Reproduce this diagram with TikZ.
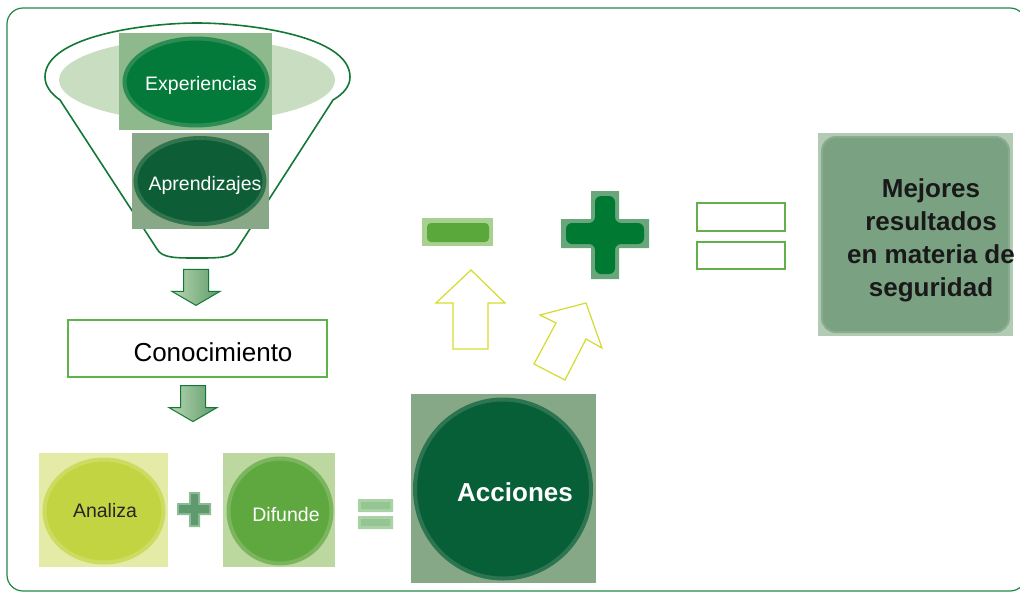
\documentclass[tikz,border=0pt]{standalone}
\usepackage{fontspec}
\setmainfont{Liberation Sans}
\usetikzlibrary{shapes.geometric}
\definecolor{frameg}{HTML}{1E8A46}
\definecolor{funnelg}{HTML}{137836}
\definecolor{rimg}{HTML}{C9DEC1}
\definecolor{expbg}{HTML}{8DB98C}
\definecolor{expcore}{HTML}{03793A}
\definecolor{aprbg}{HTML}{88A887}
\definecolor{aprcore}{HTML}{0D5E36}
\definecolor{boxg}{HTML}{5DB54A}
\definecolor{anabg}{HTML}{E4EBA6}
\definecolor{anacore}{HTML}{C3D443}
\definecolor{difbg}{HTML}{BCD7A0}
\definecolor{difcore}{HTML}{5FA840}
\definecolor{accbg}{HTML}{87A887}
\definecolor{acccore}{HTML}{075F38}
\definecolor{minbg}{HTML}{A8D08E}
\definecolor{mincore}{HTML}{5AA83C}
\definecolor{plusbg}{HTML}{6AA67B}
\definecolor{pluscore}{HTML}{007A33}
\definecolor{spbg}{HTML}{8CBB95}
\definecolor{spcore}{HTML}{5E9A6D}
\definecolor{seqbg}{HTML}{A9D3A4}
\definecolor{seqcore}{HTML}{95C592}
\definecolor{eqg}{HTML}{63B04B}
\definecolor{yel}{HTML}{D5DB2C}
\definecolor{mejedge}{HTML}{B3CBB4}
\definecolor{mejcore}{HTML}{7AA282}
\definecolor{arrlight}{HTML}{B9D7B4}
\definecolor{arrdark}{HTML}{5E9A69}

\begin{document}
\begin{tikzpicture}[x = 1pt, y = -1pt,
	tile/.style = {inner sep = 0, outer sep = 0},
	blob/.style = {ellipse, inner sep = 0, line width = 4pt},
	yarrow/.style = {draw = yel, line width = 1.2pt},
	darrow/.style = {draw = funnelg, line width = 1pt, left color = arrlight, right color = arrdark},
	pics/downarr/.style = {code = {
		\draw[darrow] (-12.5,0) -- (12.5,0) -- (12.5,22) -- (24,22) -- (0,36) -- (-24,22) -- (-12.5,22) -- cycle;
	}}
]
	\useasboundingbox (0,0) rectangle (1020,592);
	\draw[frameg, line width = 1.2pt, rounded corners = 16] (7,8) rectangle (1026,591);

	% funnel
	\draw[funnelg, line width = 1.6pt]
	(60,100) .. controls (50,93) and (45,85) .. (45,77) .. controls (45,35) and (150,23) .. (197,23)
	.. controls (245,23) and (350,35) .. (350,77) .. controls (350,85) and (345,93) .. (333,100)
	-- (237,249) .. controls (232,258) and (219,258) .. (197,258) .. controls (175,258) and (162,258) .. (157,249) -- cycle;
	\fill[rimg] (197,80) ellipse [x radius = 138, y radius = 42];

	\node[tile, fill = expbg, minimum width = 153, minimum height = 97] (EXPBOX) at (195.5,81.5) {};
	\node[blob, fill = expcore, draw = expcore!70!expbg, minimum width = 143, minimum height = 87,
		label = {[white, xshift = 5, yshift = -3, font = \fontsize{19.5}{22}\selectfont]center:Experiencias}] (EXP) at (196,82) {};
	\node[tile, fill = aprbg, minimum width = 137, minimum height = 96] (APRBOX) at (200.5,181) {};
	\node[blob, fill = aprcore, draw = aprcore!70!aprbg, minimum width = 129, minimum height = 86,
		label = {[white, xshift = 5, yshift = -4, font = \fontsize{19.5}{22}\selectfont]center:Aprendizajes}] (APR) at (200,181) {};

	% conocimiento
	\node[draw = boxg, line width = 1.2pt, minimum width = 259, minimum height = 57, text height = 25pt, text depth = 0pt,
		font = \fontsize{26}{30}\selectfont] (CONO) at (197.5,348.5) {\hspace*{31pt}Conocimiento};
	\pic at ([xshift = -1.5, yshift = 50]CONO.north) {downarr};
	\pic at ([xshift = -4.5, yshift = -8]CONO.south) {downarr};

	% analiza + difunde = acciones
	\node[tile, fill = anabg, minimum width = 129, minimum height = 114] (ANABOX) at (103.5,510) {};
	\node[blob, fill = anacore, draw = anacore!70!anabg, minimum width = 119, minimum height = 103,
		label = {[black!85, xshift = 1, font = \fontsize{19.5}{22}\selectfont]center:Analiza}] (ANA) at (104,511) {};
	\node[tile, fill = difbg, minimum width = 112, minimum height = 114] (DIFBOX) at (279,510) {};
	\node[blob, fill = difcore, draw = difcore!70!difbg, minimum width = 103, minimum height = 105,
		label = {[white, xshift = 6, yshift = -4, font = \fontsize{19.5}{22}\selectfont]center:Difunde}] (DIF) at (280,511) {};
	\node[tile, fill = accbg, minimum width = 185, minimum height = 189] (ACCBOX) at (503.5,488.5) {};
	\node[blob, fill = acccore, draw = acccore!70!accbg, minimum width = 176, minimum height = 179,
		label = {[white, xshift = 12, yshift = -3, font = \bfseries\fontsize{26}{30}\selectfont]center:Acciones}] (ACC) at (503,489) {};

	\fill[spbg] (189,492) rectangle (200,527) (177,503) rectangle (211,515);
	\fill[spcore] (191,494) rectangle (198,525) (179,505) rectangle (209,513);
	\fill[seqbg] (358,499) rectangle (393,512) (358,516) rectangle (393,529);
	\fill[seqcore] (361,502) rectangle (390,509) (361,519) rectangle (390,526);

	% minus, plus, equals
	\fill[minbg] (422,218) rectangle (493,246);
	\fill[mincore, rounded corners = 4] (427,223) rectangle (489,242);
	\fill[plusbg] (591,191) rectangle (619,279) (561,219) rectangle (649,248);
	\fill[pluscore, rounded corners = 6] (595,196) -- (615,196) -- (615,223) -- (644,223) -- (644,244) -- (615,244)
	-- (615,274) -- (595,274) -- (595,244) -- (566,244) -- (566,223) -- (595,223) -- cycle;
	\draw[eqg, line width = 1.2pt, fill = white] (697,203) rectangle (785,231) (697,242) rectangle (785,269);

	\draw[yarrow] (471,270) -- (505,303) -- (488,303) -- (488,349) -- (453,349) -- (453,303) -- (436,303) -- cycle;
	\draw[yarrow] (586,303) -- (602,348) -- (586,339) -- (565,380) -- (534,364) -- (556,323) -- (540,315) -- cycle;

	% result
	\node[tile, fill = mejedge, minimum width = 195, minimum height = 203] (MEJBOX) at (915.5,234.5) {};
	\node[fill = mejcore, draw = mejcore!75!mejedge, line width = 2pt, rounded corners = 14,
		minimum width = 187, minimum height = 195] (MEJ) at (MEJBOX) {};
	\node[black!90, align = center, font = \bfseries\fontsize{26}{33}\selectfont] (MEJTXT) at (931,240)
		{Mejores\\resultados\\en materia de\\seguridad};
\end{tikzpicture}
\end{document}
